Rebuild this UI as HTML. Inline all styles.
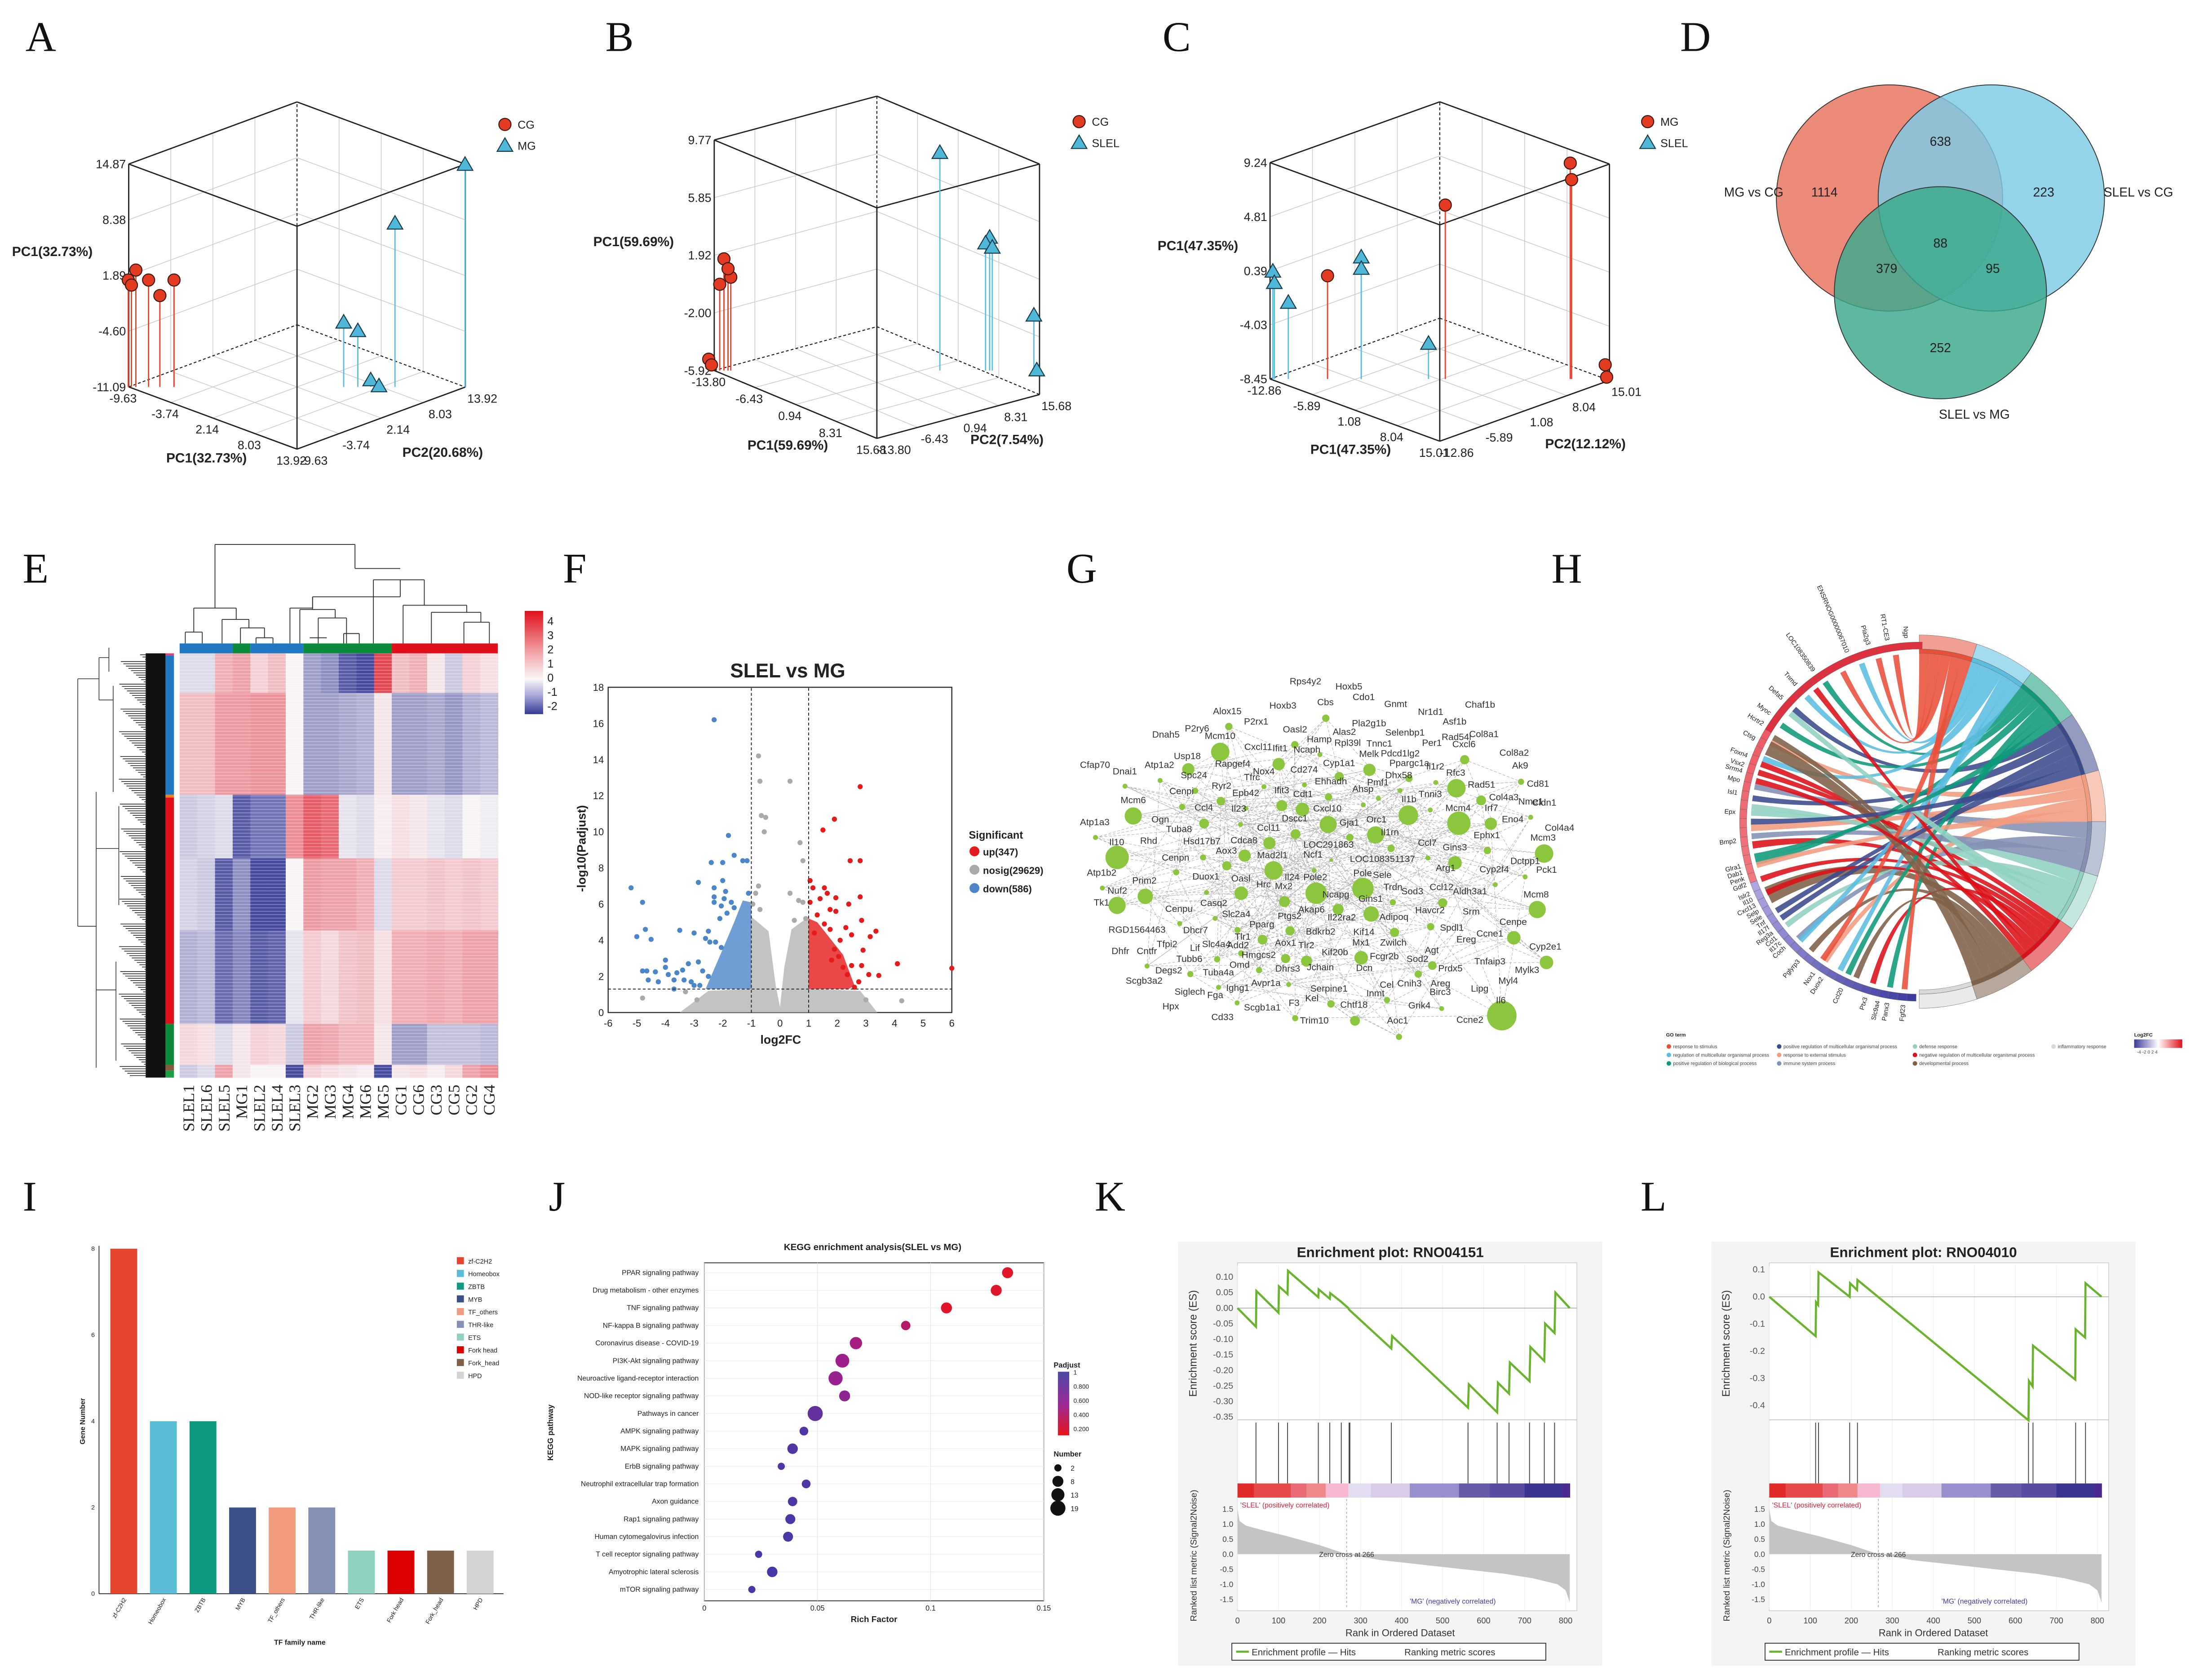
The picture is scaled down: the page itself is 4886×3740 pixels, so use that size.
<!DOCTYPE html>
<html><head><meta charset="utf-8">
<style>
html,body{margin:0;padding:0;background:#fff;}
svg{display:block;font-family:"Liberation Sans",Arial,sans-serif;}
.L{font-family:"Liberation Serif",serif;font-size:30px;fill:#111;}
</style></head>
<body>
<svg id="fig" xmlns="http://www.w3.org/2000/svg" width="4886" height="3740" viewBox="0 0 1552 1188">
<rect x="0" y="0" width="1552" height="1188" fill="#fff"/>
<text class="L" x="18" y="36">A</text>
<text class="L" x="428" y="36">B</text>
<text class="L" x="822" y="36">C</text>
<text class="L" x="1188" y="36">D</text>
<text class="L" x="16" y="412">E</text>
<text class="L" x="398" y="412">F</text>
<text class="L" x="754" y="412">G</text>
<text class="L" x="1097" y="412">H</text>
<text class="L" x="16" y="856">I</text>
<text class="L" x="388" y="856">J</text>
<text class="L" x="774" y="856">K</text>
<text class="L" x="1160" y="856">L</text>
<g id="pA"></g>
<g id="pB"></g>
<g id="pC"></g>
<g id="pD"></g>
<g id="pE"></g>
<g id="pF"></g>
<g id="pG"></g>
<g id="pH"></g>
<g id="pI"></g>
<g id="pJ"></g>
<g id="pK"></g>
<g id="pL"></g>
</svg>
<script>
// ===== DATA =====
const pcaA_CG=[[-9.66,1.36],[-9.44,0.77],[-9.13,2.52],[-8.24,1.36],[-7.45,-0.45],[-6.46,1.36]];
const pcaA_MG=[[13.9,14.8],[9.0,7.95],[5.41,-3.58],[6.4,-4.57],[7.3,-10.3],[7.88,-11.0]];
const pcaB_CG=[[-14.3,-5.15],[-14.05,-5.54],[-13.3,-0.05],[-12.92,1.68],[-12.3,0.43],[-12.55,1.01]];
const pcaB_SLEL=[[6.65,8.9],[11.16,3.13],[10.79,2.74],[11.4,2.45],[15.17,-2.17],[15.43,-5.9]];
const pcaC_MG=[[1.53,5.77],[11.79,9.2],[11.9,7.85],[14.66,-7.29],[14.78,-8.3],[-8.14,-0.01]];
const pcaC_SLEL=[[-12.63,0.34],[-12.51,-0.59],[-11.36,-2.21],[-5.37,1.5],[-5.37,0.57],[0.15,-5.56]];
const vennLabels=["MG vs CG","SLEL vs CG","SLEL vs MG"];
const vennCounts=[1114,638,223,88,379,95,252];
const hmCols=["SLEL1","SLEL6","SLEL5","MG1","SLEL2","SLEL4","SLEL3","MG2","MG3","MG4","MG6","MG5","CG1","CG6","CG3","CG5","CG2","CG4"];
const hmRowFrac=[28,72,45,51,66,29,9];
const hmVals=[
[-0.3,-0.3,1,1.2,0.5,0.8,0,-1,-1.2,-1.8,-2,2.5,0.8,1,0.2,-0.5,0.5,0.3],
[0.8,0.8,1.3,1.3,1.4,1.4,0,-1,-1,-0.9,-0.8,0.2,-1,-1,-0.9,-1.1,-0.8,-0.7],
[-0.5,-0.4,-0.3,-1.8,-1.5,-1.5,1.5,2.2,2.0,-0.2,-0.3,0.1,0.3,0.2,-0.2,-0.3,0,-0.1],
[-0.4,-0.5,-1.8,-1.2,-2,-2,0,1.3,1.2,1.2,1.0,-0.3,0.6,0.6,0.7,0.6,0.7,0.6],
[-0.8,-0.7,-1.6,-1.3,-1.8,-1.7,-0.2,0.6,0.4,0.7,0.8,0.3,1,1,1.1,1.0,1.2,1.2],
[0.4,0.3,-0.3,0.2,0.5,0.4,-0.5,1.2,1.1,0.9,0.9,0.2,-1,-1,-0.6,-0.6,-0.6,-0.7],
[-0.5,-0.3,1.2,0.2,0,0,-2,0.5,0.3,0.2,0.1,-2,0.2,0.3,0.1,0.4,1.2,1.5]];
const hmScaleTicks=[4,3,2,1,0,-1,-2];
const volUpX=[2.8,1.9,1.5,2.45,2.8,1.05,1.15,1.55,1.65,1.95,2.8,1.05,2.4,1.75,1.95,2.85,2.3,3.35,3.15,2.5,4.1,6.0,2.9,3.45,3.1,2.75,2.85,2.5,2.35,2.6,1.8,2.05,1.55,1.75,2.1,1.9,1.3,1.2,2.2,1.4];
const volUpY=[12.5,10.7,10.1,8.4,8.4,7.3,6.9,6.9,6.6,6.35,6.4,6.1,6.0,5.7,5.6,5.1,4.7,4.5,4.2,4.3,2.7,2.45,3.45,2.05,2.1,1.7,2.6,2.6,2.1,1.4,2.9,3.1,4.9,4.6,4.0,3.5,5.4,4.4,2.5,6.3];
const volDownX=[-2.3,-1.8,-1.6,-2.4,-2,-1.3,-1.15,-2.85,-2,-5.2,-2.3,-1.9,-1.1,-4.8,-2.3,-1.95,-2.3,-1.7,-2.05,-1.6,-2.1,-1.85,-4.7,-3.5,-5,-4.5,-3,-2.5,-2.6,-2.45,-2.25,-2.05,-4,-4,-3.2,-2.85,-4.8,-4.65,-4.35,-3.6,-3.9,-3.4,-4.6,-4.25,-3.7,-3.35,-3.1,-2.7,-2.5,-3.7,-2.8,-3.0];
const volDownY=[16.2,9.8,8.7,8.3,8.3,8.4,8.4,7.2,7.3,6.9,6.9,6.7,6.6,6.1,6.4,6.3,6.1,6.1,5.9,5.8,5.2,5.5,4.6,4.55,4.2,4.05,4.4,4.5,4.1,3.9,3.9,3.6,2.9,2.5,2.7,2.8,2.3,2.3,2.25,2.2,2.1,2.35,1.8,1.7,1.8,1.8,1.7,2.3,2.0,1.3,1.5,1.5];
const volNsX=[-0.75,-0.7,0.35,-0.65,-0.5,-0.55,0.7,0.8,-0.75,-0.85,0.35,0.65,0.8,-0.95,-0.7,0.5,0.9,-4.8,4.25,3.0,-2.9,-3.3];
const volNsY=[14.2,12.8,12.8,10.9,10.8,10.0,9.4,8.4,7.0,6.6,6.6,6.2,6.1,6.0,5.7,5.1,5.2,0.8,0.65,0.7,0.7,1.15];
const volNsRegionX=[-3.5,-2.5,-1,-1,-0.4,-0.15,0,0.15,0.4,1,1,2.8,3.4];
const volNsRegionY=[0,1.2,1.3,5.3,4.5,1.5,0.3,2.5,4.6,5.3,1.3,1.2,0];
const volDownRegionX=[-2.6,-2.0,-1.6,-1.3,-1,-1];
const volDownRegionY=[1.3,3.5,5.0,6.2,6.1,1.3];
const volUpRegionX=[1,1,1.3,1.7,2.2,2.6,2.4];
const volUpRegionY=[1.3,5.2,5.0,4.2,3.2,1.5,1.3];
const volXTicks=[-6,-5,-4,-3,-2,-1,0,1,2,3,4,5,6];
const volYTicks=[0,2,4,6,8,10,12,14,16,18];
const volLegend=["up(347)","nosig(29629)","down(586)"];
const tfNames=["zf-C2H2","Homeobox","ZBTB","MYB","TF_others","THR-like","ETS","Fork head","Fork_head","HPD"];
const tfCounts=[8,4,4,2,2,2,1,1,1,1];
const tfYTicks=[0,2,4,6,8];
const keggPath=["PPAR signaling pathway","Drug metabolism - other enzymes","TNF signaling pathway","NF-kappa B signaling pathway","Coronavirus disease - COVID-19","PI3K-Akt signaling pathway","Neuroactive ligand-receptor interaction","NOD-like receptor signaling pathway","Pathways in cancer","AMPK signaling pathway","MAPK signaling pathway","ErbB signaling pathway","Neutrophil extracellular trap formation","Axon guidance","Rap1 signaling pathway","Human cytomegalovirus infection","T cell receptor signaling pathway","Amyotrophic lateral sclerosis","mTOR signaling pathway"];
const keggRich=[0.134,0.129,0.107,0.089,0.067,0.061,0.058,0.062,0.049,0.044,0.039,0.034,0.045,0.039,0.038,0.037,0.024,0.030,0.021];
const keggNum=[8,8,8,5,11,15,16,8,19,4,7,2,4,5,6,6,2,7,2];
const keggPadj=[0.05,0.06,0.06,0.35,0.45,0.5,0.55,0.6,0.8,0.9,0.9,0.92,0.92,0.92,0.93,0.93,0.95,0.95,0.95];
const keggXTicks=[0,0.05,0.1,0.15];
const kRank=[0,45,46,100,101,122,123,197,198,225,226,253,270,272,375,377,562,564,633,635,662,664,712,714,748,750,773,775,810];
const kES=[0,-0.06,0.055,-0.015,0.07,0.045,0.12,0.035,0.06,0.03,0.048,0.02,0.0,-0.005,-0.13,-0.09,-0.32,-0.245,-0.335,-0.24,-0.275,-0.175,-0.235,-0.125,-0.17,-0.05,-0.08,0.05,0];
const kHits=[45,100,122,197,225,253,272,274,375,562,633,662,712,748,773];
const kESTicks=[0.10,0.05,0.00,-0.05,-0.10,-0.15,-0.20,-0.25,-0.30,-0.35];
const lRank=[0,113,114,119,120,196,197,214,215,632,633,642,643,746,747,770,771,810];
const lES=[0,-0.145,-0.02,-0.03,0.09,0.0,0.05,0.025,0.062,-0.455,-0.31,-0.33,-0.18,-0.305,-0.12,-0.15,0.05,0];
const lHits=[113,120,196,215,632,643,747,771];
const lESTicks=[0.1,0.0,-0.1,-0.2,-0.3,-0.4];
const metRank=[0,5,20,60,120,200,266,350,450,550,650,720,780,800,810];
const metVal=[1.5,1.1,0.95,0.8,0.6,0.3,0,-0.2,-0.35,-0.5,-0.65,-0.8,-1.0,-1.2,-1.6];
const metTicks=[1.5,1.0,0.5,0.0,-0.5,-1.0,-1.5];
const rankTicks=[0,100,200,300,400,500,600,700,800];

// ===== helpers =====
const NS="http://www.w3.org/2000/svg";
function E(tag,a,p){const e=document.createElementNS(NS,tag);for(const k in a)e.setAttribute(k,a[k]);p.appendChild(e);return e;}
function T(p,x,y,s,txt,a){const e=E('text',Object.assign({x:x,y:y,'font-size':s,fill:'#222'},a||{}),p);e.textContent=txt;return e;}
function lerp(a,b,t){return a+(b-a)*t;}
function mixC(c1,c2,t){return 'rgb('+Math.round(lerp(c1[0],c2[0],t))+','+Math.round(lerp(c1[1],c2[1],t))+','+Math.round(lerp(c1[2],c2[2],t))+')';}

// ===== PCA =====
function pca(g,cfg){
  const BL=cfg.BL,BF=cfg.BF,BB=cfg.BB,H=cfg.H;
  const P=(a,b,c)=>[BL[0]+a*(BF[0]-BL[0])+b*(BB[0]-BL[0]), BL[1]+a*(BF[1]-BL[1])+b*(BB[1]-BL[1])-c*H];
  const BR=P(1,1,0);
  const ln=(p,q,st,w,d,name)=>{const e=E('line',{x1:p[0],y1:p[1],x2:q[0],y2:q[1],stroke:st,'stroke-width':w},g);if(d)e.setAttribute('stroke-dasharray',d);return e;};
  for(let k=1;k<4;k++){const t=k/4;
    ln(P(0,t,0),P(0,t,1),'#ccc',0.5,null,'grid-line');ln(P(t,1,0),P(t,1,1),'#ccc',0.5,null,'grid-line');
    ln(P(t,0,0),P(t,1,0),'#ccc',0.5,null,'grid-line');ln(P(0,t,0),P(1,t,0),'#ccc',0.5,null,'grid-line');
    ln(P(0,0,t),P(0,1,t),'#ccc',0.5,null,'grid-line');ln(P(0,1,t),P(1,1,t),'#ccc',0.5,null,'grid-line');}
  ln(P(0,0,0),P(0,1,0),'#222',0.7,'2,1.5','box-edge');ln(P(0,1,0),P(1,1,0),'#222',0.7,'2,1.5','box-edge');ln(P(0,1,0),P(0,1,1),'#222',0.7,'2,1.5','box-edge');
  ln(P(0,0,1),P(0,1,1),'#222',0.9,null,'box-edge');ln(P(0,1,1),P(1,1,1),'#222',0.9,null,'box-edge');ln(P(1,1,1),P(1,0,1),'#222',0.9,null,'box-edge');ln(P(1,0,1),P(0,0,1),'#222',0.9,null,'box-edge');
  ln(P(0,0,0),P(0,0,1),'#222',0.9,null,'box-edge');ln(P(1,0,0),P(1,0,1),'#222',0.9,null,'box-edge');ln(P(1,1,0),P(1,1,1),'#222',0.9,null,'box-edge');
  ln(P(0,0,0),P(1,0,0),'#222',0.9,null,'box-edge');ln(P(1,0,0),P(1,1,0),'#222',0.9,null,'box-edge');
  const xr=cfg.xr,zr=cfg.zr,xt=cfg.xt,zt=cfg.zt;
  const sx=v=>BL[0]+(v-xr[0])/(xr[1]-xr[0])*(BR[0]-BL[0]);
  const sy=v=>BL[1]-(v-zr[0])/(zr[1]-zr[0])*H;
  zt.forEach((v,i)=>{const t=T(g,BL[0]-2,BL[1]-i/4*H+3,8.5,v,{'text-anchor':'end'});});
  xt.forEach((v,i)=>{const p=P(i/4,0,0);const t=T(g,p[0]-4,p[1]+11,8.5,v,{'text-anchor':'middle'});});
  xt.forEach((v,i)=>{const p=P(1,i/4,0);const t=T(g,p[0]+12,p[1]+11,8.5,v,{'text-anchor':'middle'});});
  let t=T(g,cfg.tz[0],cfg.tz[1],9.5,cfg.t1,{'font-weight':'bold','text-anchor':'middle'});
  t=T(g,cfg.tx[0],cfg.tx[1],9.5,cfg.t1,{'font-weight':'bold','text-anchor':'middle'});
  t=T(g,cfg.ty[0],cfg.ty[1],9.5,cfg.t2,{'font-weight':'bold','text-anchor':'middle'});
  const marker=(x,y,kind)=>{let m;if(kind==0){m=E('circle',{cx:x,cy:y,r:4.3,fill:'#e23b22',stroke:'#3a1a10','stroke-width':0.7},g);}else{m=E('polygon',{points:(x)+','+(y-5.5)+' '+(x-5.5)+','+(y+4)+' '+(x+5.5)+','+(y+4),fill:'#4fb8d8',stroke:'#1a3a48','stroke-width':0.7},g);}return m;};
  [[cfg.s1,0,'#e8402a'],[cfg.s2,1,'#5bc0de']].forEach(([arr,kind,col])=>{
    arr.forEach(d=>{const x=sx(d[0]),y=sy(d[1]);
      const s=E('line',{x1:x,y1:BL[1],x2:x,y2:y,stroke:col,'stroke-width':0.9},g);});
    arr.forEach(d=>{const m=marker(sx(d[0]),sy(d[1]),kind);});
  });
  let m=marker(cfg.lg[0],cfg.lg[1],0);
  t=T(g,cfg.lg[0]+9,cfg.lg[1]+3,8,cfg.n1);
  m=marker(cfg.lg[0],cfg.lg[1]+15,1);
  t=T(g,cfg.lg[0]+9,cfg.lg[1]+18,8,cfg.n2);
}
pca(document.getElementById('pA'),{BL:[91,273.6],BF:[210,317.6],BB:[210,229.7],H:157.6,xr:[-9.63,13.92],zr:[-11.09,14.87],
 xt:["-9.63","-3.74","2.14","8.03","13.92"],zt:["-11.09","-4.60","1.89","8.38","14.87"],t1:"PC1(32.73%)",t2:"PC2(20.68%)",
 tz:[37,181],tx:[146,327],ty:[313,323],s1:pcaA_CG,s2:pcaA_MG,n1:"CG",n2:"MG",lg:[357,88]});
pca(document.getElementById('pB'),{BL:[505,262],BF:[620,310],BB:[620,231],H:163,xr:[-13.8,15.68],zr:[-5.92,9.77],
 xt:["-13.80","-6.43","0.94","8.31","15.68"],zt:["-5.92","-2.00","1.92","5.85","9.77"],t1:"PC1(59.69%)",t2:"PC2(7.54%)",
 tz:[448,174],tx:[557,318],ty:[712,314],s1:pcaB_CG,s2:pcaB_SLEL,n1:"CG",n2:"SLEL",lg:[763,86]});
pca(document.getElementById('pC'),{BL:[898,268],BF:[1018,312],BB:[1018,225],H:153,xr:[-12.86,15.01],zr:[-8.45,9.24],
 xt:["-12.86","-5.89","1.08","8.04","15.01"],zt:["-8.45","-4.03","0.39","4.81","9.24"],t1:"PC1(47.35%)",t2:"PC2(12.12%)",
 tz:[847,177],tx:[955,321],ty:[1121,317],s1:pcaC_MG,s2:pcaC_SLEL,n1:"MG",n2:"SLEL",lg:[1165,86]});

// ===== Venn =====
(function(){const g=document.getElementById('pD');
 const cs=[[1336,140,80,'#e8705c'],[1408,140,80,'#7ccbe6'],[1372,207,75,'#3aa88c']];
 cs.forEach((c,i)=>{const e=E('circle',{cx:c[0],cy:c[1],r:c[2],fill:c[3],'fill-opacity':0.82,stroke:'#333','stroke-width':0.6},g);});
 const pos=[[1290,139],[1372,103],[1445,139],[1372,175],[1334,193],[1409,193],[1372,249]];
 vennCounts.forEach((v,i)=>{const t=T(g,pos[i][0],pos[i][1],9,v,{'text-anchor':'middle'});});
 const lp=[[1240,139,'middle'],[1512,139,'middle'],[1396,296,'middle']];
 vennLabels.forEach((v,i)=>{const t=T(g,lp[i][0],lp[i][1],9,v,{'text-anchor':lp[i][2]});});
})();

// ===== Heatmap =====
(function(){const g=document.getElementById('pE');
 const x0=127,x1=352,y0=462,y1=762,cw=(x1-x0)/hmCols.length;
 const tot=hmRowFrac.reduce((a,b)=>a+b,0);
 const col=v=>{if(v>=0)return mixC([248,244,246],[222,22,38],Math.min(v/3.2,1));return mixC([248,244,246],[52,58,150],Math.min(-v/2.2,1));};
 let yy=y0;
 hmVals.forEach((row,r)=>{const h=hmRowFrac[r]/tot*(y1-y0);
   row.forEach((v,c)=>{const e=E('rect',{x:x0+c*cw,y:yy,width:cw+0.3,height:h+0.3,fill:col(v)},g);});
   yy+=h;});
 for(let y=y0;y<y1;y+=2.4){const e=E('line',{x1:x0,x2:x1,y1:y,y2:y,stroke:'#fff','stroke-width':0.5,'stroke-opacity':0.35},g);}
 const grp=[[0,3,'#1f78c1'],[3,4,'#0a8a3a'],[4,7,'#1f78c1'],[7,12,'#0a8a3a'],[12,18,'#e0101a']];
 grp.forEach(q=>{const e=E('rect',{x:x0+q[0]*cw,y:455,width:(q[1]-q[0])*cw,height:7,fill:q[2]},g);});
 const rg=[[462,463.5,'#e04080'],[463.5,562,'#1f78c1'],[562,564,'#f08020'],[564,724,'#e0101a'],[724,753,'#0a8a3a'],[753,757,'#8a5a40'],[757,762,'#1ba040']];
 rg.forEach(q=>{const e=E('rect',{x:117,y:q[0],width:6,height:q[1]-q[0],fill:q[2]},g);});
 const segs=[[152,385,251,385],[152,385,152,430],[251,385,251,402],[137,430,167,430],[137,430,137,447],[167,430,167,438],[131,447,143,447],[131,447,131,455],[143,447,143,455],[157,438,176,438],[157,438,157,455],[176,438,176,444],[170,444,187,444],[170,444,170,455],[187,444,187,451],[181,451,193,451],[181,451,181,455],[193,451,193,455],[205,430,221,430],[205,430,205,455],[221,430,221,422],[221,422,283,422],[283,422,283,410],[251,402,283,402],[221,422,221,431],[212,431,237,431],[212,431,212,455],[237,431,237,437],[225,437,245,437],[225,437,225,455],[245,437,245,455],[264,410,300,410],[264,410,264,455],[300,410,300,428],[285,428,330,428],[285,428,285,455],[330,428,330,433],[305,433,340,433],[305,433,305,455],[340,433,340,440],[328,440,346,440],[328,440,328,455],[346,440,346,455],[219,451,231,451],[243,448,254,448],[243,448,243,455],[254,448,254,455]];
 segs.forEach(s=>{const e=E('line',{x1:s[0],y1:s[1],x2:s[2],y2:s[3],stroke:'#333','stroke-width':0.6},g);});
 const lb=[[55,480,55,655],[55,480,70,480],[55,655,68,655],[70,465,70,495],[68,560,68,755],[70,465,77,465],[70,495,80,495],[77,458,77,475],[80,485,80,560],[68,600,84,600],[84,570,84,640],[68,700,82,700],[82,680,82,750]];
 lb.forEach(s=>{const e=E('line',{x1:s[0],y1:s[1],x2:s[2],y2:s[3],stroke:'#333','stroke-width':0.5},g);});
 const dense=E('rect',{x:103,y:462,width:14,height:300,fill:'#111'},g);
 for(let y=463;y<761;y+=1.6){const e=E('line',{x1:84+((y*13)%19),y1:y,x2:104,y2:y,stroke:'#222','stroke-width':0.5},g);}
 hmCols.forEach((c,i)=>{const x=x0+(i+0.5)*cw+4;const t=T(g,x,767,11.5,c,{'text-anchor':'end','font-family':'"Liberation Serif",serif',transform:'rotate(-90 '+x+' 767)'});});
 const defs=E('defs',{},g);const lg=E('linearGradient',{id:'hmg',x1:0,y1:0,x2:0,y2:1},defs);
 [[0,'#e0101a'],[0.45,'#f4b4b8'],[0.66,'#faf6f8'],[0.82,'#a8a8d8'],[1,'#343a96']].forEach(s=>E('stop',{offset:s[0],'stop-color':s[1]},lg));
 const sb=E('rect',{x:371,y:432,width:13,height:73,fill:'url(#hmg)'},g);
 hmScaleTicks.forEach((v,i)=>{const t=T(g,387,442+i*10,8,v);});
})();

// ===== Volcano =====
(function(){const g=document.getElementById('pF');
 const X0=430,X1=673,Y0=716,Y1=486;
 const sx=v=>X0+(v+6)/12*(X1-X0), sy=v=>Y0-v/18*(Y0-Y1);
 let e=E('rect',{x:X0,y:Y1,width:X1-X0,height:Y0-Y1,fill:'none',stroke:'#333','stroke-width':0.8},g);
 const reg=(xs,ys,c,n)=>{const pts=xs.map((x,i)=>sx(x)+','+sy(ys[i])).join(' ');const p=E('polygon',{points:pts,fill:c,'fill-opacity':0.8},g);};
 reg(volNsRegionX,volNsRegionY,'#b4b4b4','nosig-dense-region');reg(volDownRegionX,volDownRegionY,'#4a86c8','down-dense-region');reg(volUpRegionX,volUpRegionY,'#e51a1a','up-dense-region');
 volNsX.forEach((x,i)=>{const c=E('circle',{cx:sx(x),cy:sy(volNsY[i]),r:1.8,fill:'#aaa'},g);});
 volDownX.forEach((x,i)=>{const c=E('circle',{cx:sx(x),cy:sy(volDownY[i]),r:1.8,fill:'#4a86c8'},g);});
 volUpX.forEach((x,i)=>{const c=E('circle',{cx:sx(x),cy:sy(volUpY[i]),r:1.8,fill:'#e51a1a'},g);});
 [[-1,0,-1,18],[1,0,1,18],[-6,1.3,6,1.3]].forEach(l=>{const d=E('line',{x1:sx(l[0]),y1:sy(l[1]),x2:sx(l[2]),y2:sy(l[3]),stroke:'#222','stroke-width':0.6,'stroke-dasharray':'2,1.5'},g);});
 volXTicks.forEach(v=>{const t=T(g,sx(v),Y0+10,7,v,{'text-anchor':'middle'});});
 volYTicks.forEach(v=>{const t=T(g,X0-3,sy(v)+2.5,7,v,{'text-anchor':'end'});});
 let t=T(g,557,479,14,'SLEL vs MG',{'font-weight':'bold','text-anchor':'middle'});
 t=T(g,552,738,8.5,'log2FC',{'font-weight':'bold','text-anchor':'middle'});
 t=T(g,414,600,8.5,'-log10(Padjust)',{'font-weight':'bold','text-anchor':'middle',transform:'rotate(-90 414 600)'});
 t=T(g,685,593,7.5,'Significant',{'font-weight':'bold'});
 ['#e51a1a','#aaa','#4a86c8'].forEach((c,i)=>{const m=E('circle',{cx:689,cy:602+i*13,r:3.5,fill:c},g);
   const l=T(g,695,605+i*13,7,volLegend[i],{'font-weight':'bold'});});
})();

// ===== Network =====
const netLabels=[['Rps4y2',615,115],['Hoxb5',748,135],['Cdo1',798,175],['Cbs',695,195],['Hoxb3',556,208],['Gnmt',890,202],['Chaf1b',1125,205],['Alox15',392,230],['Nr1d1',988,233],['P2rx1',482,270],['Pla2g1b',796,277],['Asf1b',1060,270],['Oasl2',595,300],['Alas2',740,310],['Selenbp1',893,312],['Dnah5',215,320],['P2ry6',310,297],['Mcm10',368,325],['Rad54l',1057,330],['Col8a1',1137,318],['Hamp',665,338],['Rpl39l',745,352],['Tnnc1',838,355],['Per1',1000,352],['Cxcl6',1088,357],['Cxcl11',483,368],['Ifit1',565,373],['Ncaph',626,378],['Col8a2',1225,390],['Melk',817,395],['Pdcd1lg2',880,393],['Usp18',278,403],['Cfap70',5,437],['Atp1a2',193,437],['Rapgef4',398,433],['Cyp1a1',712,430],['Ppargc1a',905,430],['Il1r2',1012,443],['Ak9',1262,440],['Dnai1',100,462],['Nox4',508,462],['Cd274',617,455],['Rfc3',1070,467],['Spc24',298,477],['Tfrc',482,485],['Dhx58',893,477],['Ehhadh',688,500],['Pmf1',840,505],['Rad51',1133,513],['Cd81',1305,510],['Cenpi',265,538],['Ryr2',388,518],['Epb42',448,545],['Ifit3',570,535],['Cdt1',625,550],['Ahsp',797,530],['Tnni3',990,550],['Il1b',940,570],['Col4a3',1195,562],['Nme1',1280,578],['Cldn1',1320,583],['Mcm6',123,573],['Ccl4',338,602],['Il23',445,606],['Cxcl10',683,605],['Mcm4',1068,603],['Irf7',1182,603],['Atp1a3',5,658],['Ogn',213,648],['Dscc1',592,643],['Gja1',760,660],['Orc1',838,648],['Eno4',1232,647],['Col4a4',1357,680],['Tuba8',255,685],['Ccl11',520,680],['Il1rn',880,697],['Ephx1',1150,708],['Mcm3',1315,718],['Il10',90,735],['Rhd',180,730],['Hsd17b7',305,732],['Cdca8',443,728],['LOC291863',655,745],['Ccl7',988,738],['Gins3',1060,755],['Aox3',400,768],['Mad2l1',520,785],['Ncf1',655,783],['Cenpn',243,795],['LOC108351137',790,800],['Dctpp1',1257,808],['Atp1b2',25,853],['Arg1',1040,835],['Cyp2f4',1167,840],['Pck1',1332,842],['Duox1',332,868],['Oasl',445,875],['Il24',600,870],['Pole2',655,870],['Pole',800,855],['Sele',857,862],['Prim2',157,883],['Hrc',518,898],['Mx2',572,905],['Trdn',888,908],['Sod3',940,925],['Ccl12',1022,908],['Aldh3a1',1090,925],['Nuf2',85,922],['Ncapg',710,937],['Gins1',815,953],['Mcm8',1295,937],['Tk1',45,968],['Casq2',355,970],['Cenpu',253,992],['Akap6',640,995],['Havcr2',980,998],['Srm',1118,1003],['Slc2a4',418,1012],['Ptgs2',580,1020],['Il22ra2',725,1025],['Adipoq',876,1024],['Cenpe',1225,1043],['RGD1564463',88,1073],['Dhcr7',305,1075],['Pparg',498,1052],['Bdkrb2',662,1080],['Kif14',800,1082],['Spdl1',1052,1065],['Ccne1',1158,1088],['Tlr1',455,1100],['Ereg',1100,1110],['Tfpi2',228,1128],['Slc4a4',360,1128],['Add2',433,1133],['Aox1',572,1123],['Tlr2',640,1133],['Mx1',797,1122],['Zwilch',878,1122],['Cyp2e1',1312,1138],['Dhfr',97,1155],['Cntfr',170,1155],['Lif',325,1143],['Agt',1008,1152],['Hmgcs2',475,1170],['Kif20b',708,1160],['Fcgr2b',848,1175],['Sod2',955,1186],['Tnfaip3',1152,1195],['Tubb6',285,1186],['Omd',440,1208],['Jchain',665,1218],['Dhrs3',573,1223],['Dcn',808,1220],['Prdx5',1047,1222],['Mylk3',1270,1228],['Degs2',224,1230],['Tuba4a',362,1238],['Scgb3a2',138,1270],['Avpr1a',503,1278],['Cel',877,1285],['Cnih3',928,1280],['Areg',1025,1280],['Myl4',1222,1270],['Serpine1',675,1300],['Lipg',1142,1300],['Siglech',280,1312],['Ighg1',430,1297],['Fga',375,1325],['Birc3',1022,1313],['Inmt',838,1318],['Kel',660,1337],['F3',612,1355],['Il6',1215,1345],['Hpx',245,1368],['Scgb1a1',482,1373],['Chtf18',762,1362],['Grik4',960,1365],['Cd33',387,1410],['Trim10',645,1423],['Aoc1',898,1423],['Ccne2',1100,1420]];
const netNodes=[[413,388,30],[160,635,28],[113,795,38],[113,980,28],[195,945,25],[320,455,20],[583,435,20],[592,595,18],[652,610,22],[727,668,28],[847,457,20],[865,708,28],[960,632,32],[1100,528,30],[1107,663,38],[1124,418,15],[1172,575,16],[1200,665,20],[1355,780,30],[1335,996,28],[1267,1105,22],[1362,1200,22],[1232,1405,48],[828,915,35],[692,933,35],[568,845,30],[484,788,20],[474,933,22],[600,965,18],[852,1013,25],[756,995,18],[823,1182,22],[664,1195,18],[603,1185,15],[536,1112,16],[616,1078,15],[432,827,15],[366,664,16],[556,740,20],[632,705,16],[1096,816,22],[1060,970,15],[1030,1212,14],[989,1245,12],[920,1084,15],[805,1425,16],[735,1360,12],[1025,1062,12],[910,760,12],[728,562,12],[759,483,15],[415,578,14],[302,600,10],[340,538,10],[438,290,12],[720,258,12],[630,360,12],[962,490,12],[1190,768,12],[1300,870,8],[1288,503,10],[1316,640,8],[136,520,8],[238,498,8],[50,718,8],[70,913,8],[363,795,10],[285,852,10],[373,930,8],[295,1050,8],[398,1030,8],[463,1075,10],[404,1188,10],[326,1245,10],[200,1214,8],[474,1165,10],[526,1230,10],[408,1296,8],[462,1356,8],[631,1415,10],[933,1487,10],[898,1345,10],[1057,1378,8],[1213,900,8],[540,522,8],[658,515,8],[703,398,8],[472,668,8],[487,606,8],[790,718,12],[829,592,8],[873,567,8],[936,537,8],[1024,612,8],[1040,506,8],[1017,797,8],[915,968,10],[612,1285,8],[686,845,8],[736,805,6]];
(function(){const g=document.getElementById('pG');
 const X=px=>762.4+px/4.114, Y=py=>460.6+py/5.455;
 const n=netNodes.length;
 for(let i=0;i<n;i++){[(i*17+5)%n,(i*29+11)%n,(i*7+3)%n].forEach(j=>{const a=netNodes[i],b=netNodes[j];const e=E('line',{x1:X(a[0]),y1:Y(a[1]),x2:X(b[0]),y2:Y(b[1]),stroke:'#aaa','stroke-width':0.3,'stroke-dasharray':'2,1.2'},g);});}
 netNodes.forEach(nd=>{const c=E('circle',{cx:X(nd[0]),cy:Y(nd[1]),r:nd[2]/4.6,fill:'#8cc63f'},g);});
 netLabels.forEach(l=>{const t=T(g,X(l[1]),Y(l[2])+2.3,6.6,l[0],{fill:'#333'});});
})();

// ===== Chord =====
const chordSegColors=['#e8503a','#5bbde0','#0e9a7a','#3b4a8c','#f39b7f','#8491b4','#91d1c2','#dc1018','#7e6148','#d9d9d9'];
const chordSegStart=[0,18,37,55,74,90,107,125,143,162];
const chordSegEnd=[18,37,55,74,90,107,125,143,162,180];
const chordLinkSrc=[352,346,340,333,326,318,312,305,298,292,287,282,278,273,268,262,256,250,244,238,232,226,220,214,208,202,196,190,185,300,290,275,265,255,245,235,225,215,205,322,310,296,284,270,258];
const chordLinkSeg=[0,0,1,0,2,1,3,2,4,1,7,5,3,6,4,7,2,7,8,3,6,5,8,4,1,8,7,2,0,8,7,6,5,4,7,3,1,0,2,7,6,8,7,3,2];
const chordLinkW=[2,2,2,2,2,2,2,2,2,2,2,2,2,2,2.5,2.5,2,2,6,2,2,2,2,2,2,2,2,2,2,2,2,2,2,2,2,2,2,2,2,2,2,5,2,2,2];
const chordGenes=[['Ngp',356],['RT1-CE3',350],['Pla2g3',344],['ENSRNOG00000067010',337],['LOC108350839',325],['Tnmd',318],['Defa5',312],['Myoc',306],['Hcrtr2',302],['Ctsg',297],['Foxn4',291],['Vsx2',288],['Srrm4',286],['Mpo',283],['Isl1',279],['Epx',273],['Bmp2',264],['Glra1',256],['Dab1',254],['Penk',252],['Gdf2',250],['Islr2',247],['Il10',245],['Cxcl13',243],['Selp',241],['Sele',239],['Tnf',237],['Il17f',235],['Reg3a',233],['Ccl1',231],['Il17c',229],['Coch',227],['Pglyrp3',221],['Nox1',215],['Duox2',212],['Ccl20',205],['Ptx3',197],['Slc9a4',193],['Panx3',190],['Fgf23',185]];
(function(){const g=document.getElementById('pH');
 const cx=1357,cy=581,R=119;
 const pt=(a,r)=>[cx+r*Math.sin(a*Math.PI/180),cy-r*Math.cos(a*Math.PI/180)];
 const arc=(a0,a1,r0,r1,fill,op,name)=>{const p0=pt(a0,r1),p1=pt(a1,r1),p2=pt(a1,r0),p3=pt(a0,r0);const lg=(a1-a0)>180?1:0;
   const e=E('path',{d:'M'+p0+' A'+r1+' '+r1+' 0 '+lg+' 1 '+p1+' L'+p2+' A'+r0+' '+r0+' 0 '+lg+' 0 '+p3+' Z',fill:fill,'fill-opacity':op,stroke:'#666','stroke-width':0.2},g);return e;};
 const used=chordSegColors.map(()=>0), cnt=chordSegColors.map(()=>0);
 chordLinkSeg.forEach(s=>cnt[s]++);
 chordLinkSrc.forEach((a,i)=>{const s=chordLinkSeg[i];const span=(chordSegEnd[s]-chordSegStart[s])/cnt[s];
   const b0=chordSegStart[s]+used[s]*span, b1=b0+span; used[s]++;
   const w=chordLinkW[i]/2;const p1=pt(a-w,R),p2=pt(a+w,R),q1=pt(b0,R),q2=pt(b1,R);
   const e=E('path',{d:'M'+p1+' Q'+cx+','+cy+' '+q2+' A'+R+' '+R+' 0 0 0 '+q1+' Q'+cx+','+cy+' '+p2+' Z',fill:chordSegColors[s],'fill-opacity':0.88},g);
   });
 chordSegColors.forEach((c,i)=>{arc(chordSegStart[i],chordSegEnd[i],R,R+3,c,1,'term-segment');arc(chordSegStart[i],chordSegEnd[i],R+3,R+13,c,0.55,'term-segment-outer');});
 for(let a=181;a<359;a+=3){let c;if(a>=300)c='#e03040';else if(a>=250)c=mixC([240,120,130],[236,90,100],(a-250)/50);else c=mixC([60,60,160],[180,170,230],(a-181)/69);
   arc(a,a+3,R+3,R+8,c,1,'gene-arc');}
 chordGenes.forEach(gn=>{const p=pt(gn[1],R+11);let rot=gn[1]-90;
   const t=T(g,p[0],p[1]+1.5,4.6,gn[0],{'text-anchor':'end',transform:'rotate('+(rot+180)+' '+p[0]+' '+p[1]+')'});});
 const terms=['response to stimulus','regulation of multicellular organismal process','positive regulation of biological process','positive regulation of multicellular organismal process','response to external stimulus','immune system process','defense response','negative regulation of multicellular organismal process','developmental process','inflammatory response'];
 const tc=['#e8503a','#5bbde0','#0e9a7a','#3b4a8c','#f39b7f','#8491b4','#91d1c2','#dc1018','#7e6148','#d9d9d9'];
 let t=T(g,1178,733,3.5,'GO term',{'font-weight':'bold'});
 const lx=[1180,1180,1180,1258,1258,1258,1354,1354,1354,1452], ly=[740,746,752,740,746,752,740,746,752,740];
 terms.forEach((s,i)=>{const m=E('circle',{cx:lx[i],cy:ly[i],r:1.6,fill:tc[i]},g);
   const l=T(g,lx[i]+3,ly[i]+1.2,3.4,s,{fill:'#444'});});
 const defs=E('defs',{},g);const lgd=E('linearGradient',{id:'lfc'},defs);
 [[0,'#3a3a9a'],[0.5,'#ffffff'],[1,'#e0101a']].forEach(s=>E('stop',{offset:s[0],'stop-color':s[1]},lgd));
 t=T(g,1509,733,3.5,'Log2FC',{'font-weight':'bold'});
 const r=E('rect',{x:1509,y:735,width:34,height:6,fill:'url(#lfc)'},g);
 t=T(g,1511,745,3.2,'-4 -2  0  2  4',{fill:'#444'});
})();

// ===== TF bar =====
(function(){const g=document.getElementById('pI');
 const X0=70,Y0=1127,Y1=883,step=28,bw=19;const sy=v=>Y0-v/8*(Y0-Y1);
 const tc=['#e5452c','#5bbcd6','#0e9a81','#3c4f88','#f39b7f','#8491b4','#91d1c2','#dc0000','#7e6148','#d3d3d3'];
 let e=E('line',{x1:X0,y1:Y1-2,x2:X0,y2:Y0,stroke:'#333','stroke-width':0.6},g);
 e=E('line',{x1:X0,y1:Y0,x2:356,y2:Y0,stroke:'#333','stroke-width':0.6},g);
 tfYTicks.forEach(v=>{const t=T(g,X0-3,sy(v)+1.5,4.5,v,{'text-anchor':'end'});});
 tfCounts.forEach((v,i)=>{const x=X0+8+i*step;const r=E('rect',{x:x,y:sy(v),width:bw,height:Y0-sy(v),fill:tc[i]},g);
   const lx=x+bw/2+2;const t=T(g,lx,Y0+4,4.3,tfNames[i],{'text-anchor':'end',transform:'rotate(-60 '+lx+' '+(Y0+4)+')'});});
 let t=T(g,60,1005,5,'Gene Number',{'font-weight':'bold','text-anchor':'middle',transform:'rotate(-90 60 1005)'});
 t=T(g,212,1163,5,'TF family name',{'font-weight':'bold','text-anchor':'middle'});
 tfNames.forEach((n,i)=>{const r=E('rect',{x:323,y:889+i*9,width:5,height:5,fill:tc[i]},g);
   const l=T(g,331,893.5+i*9,4.6,n);});
})();

// ===== KEGG dot =====
(function(){const g=document.getElementById('pJ');
 const X0=498,X1=738,Y0=893,Y1=1132;const sx=v=>X0+v/0.15*(X1-X0);const sy=i=>900+i*(1124-900)/(keggPath.length-1);
 let e=E('rect',{x:X0,y:Y0,width:X1-X0,height:Y1-Y0,fill:'#fff',stroke:'#333','stroke-width':0.6},g);
 keggXTicks.forEach(v=>{const l=E('line',{x1:sx(v),y1:Y0,x2:sx(v),y2:Y1,stroke:'#e4e4e4','stroke-width':0.4},g);
   const t=T(g,sx(v),Y1+7,5.2,v,{'text-anchor':'middle'});});
 const pc=p=>p<0.5?mixC([232,20,28],[160,30,140],p/0.5):mixC([160,30,140],[60,60,170],(p-0.5)/0.5);
 keggPath.forEach((n,i)=>{const y=sy(i);const l=E('line',{x1:X0,y1:y,x2:X1,y2:y,stroke:'#ececec','stroke-width':0.4},g);
   const t=T(g,X0-4,y+1.6,5,n,{'text-anchor':'end'});});
 keggRich.forEach((v,i)=>{const c=E('circle',{cx:sx(v),cy:sy(i),r:1.2+Math.sqrt(keggNum[i])*0.95,fill:pc(keggPadj[i])},g);});
 let t=T(g,617,884,6.5,'KEGG enrichment analysis(SLEL vs MG)',{'font-weight':'bold','text-anchor':'middle'});
 t=T(g,618,1147,6,'Rich Factor',{'font-weight':'bold','text-anchor':'middle'});
 t=T(g,391,1013,5.5,'KEGG pathway',{'font-weight':'bold','text-anchor':'middle',transform:'rotate(-90 391 1013)'});
 const defs=E('defs',{},g);const lg=E('linearGradient',{id:'padj',x1:0,y1:0,x2:0,y2:1},defs);
 [[0,'#4a4aa8'],[0.5,'#9a2a9a'],[1,'#e8141c']].forEach(s=>E('stop',{offset:s[0],'stop-color':s[1]},lg));
 t=T(g,745,967,5.2,'Padjust',{'font-weight':'bold'});
 const r=E('rect',{x:748,y:970,width:8,height:45,fill:'url(#padj)'},g);
 ['1','0.800','0.600','0.400','0.200'].forEach((s,i)=>{const q=T(g,759,972+i*10,4.4,s);});
 t=T(g,745,1030,5.2,'Number',{'font-weight':'bold'});
 [2,8,13,19].forEach((v,i)=>{const c=E('circle',{cx:748,cy:1038+i*9.5,r:1.2+Math.sqrt(v)*0.95,fill:'#111'},g);
   const q=T(g,757,1040+i*9.5,5,v);});
})();

// ===== GSEA =====
function gsea(g,o){
 const fr=E('rect',{x:o.fx,y:878,width:300,height:300,fill:'#f4f4f4'},g);
 const inner=E('rect',{x:o.x0,y:893,width:o.x1-o.x0+8,height:246,fill:'#fff',stroke:'#ccc','stroke-width':0.5},g);
 const sx=r=>o.x0+r/800*(o.x1-o.x0);const sy=v=>o.y0-v*o.ys;const my=v=>1099-v*21.3;
 let t=T(g,o.fx+150,889,10,o.title,{'font-weight':'bold','text-anchor':'middle'});
 rankTicks.forEach(v=>{const l=E('line',{x1:sx(v),y1:895,x2:sx(v),y2:1138,stroke:'#eee','stroke-width':0.4},g);
   const q=T(g,sx(v),1148,5.8,v,{'text-anchor':'middle',fill:'#444'});});
 o.ticks.forEach(v=>{const q=T(g,o.x0-3,sy(v)+2,6.3,o.dec?v.toFixed(2):v.toFixed(1),{'text-anchor':'end',fill:'#555'});});
 let l=E('line',{x1:o.x0,y1:sy(0),x2:o.x1+8,y2:sy(0),stroke:'#aaa','stroke-width':0.5},g);
 l=E('line',{x1:o.x0,y1:1004,x2:o.x1+8,y2:1004,stroke:'#bbb','stroke-width':0.5},g);
 const pts=o.rank.map((r,i)=>sx(r)+','+sy(o.es[i])).join(' ');
 const pl=E('polyline',{points:pts,fill:'none',stroke:'#6ab42d','stroke-width':1.5},g);
 o.hits.forEach(h=>{const q=E('line',{x1:sx(h),y1:1006,x2:sx(h),y2:1049,stroke:'#444','stroke-width':0.6},g);});
 const bc=['#e02a2a','#e64a4a','#ea6a78','#f08a8a','#f5b8d0','#e4dcf0','#d8cce8','#9890cc','#6858a8','#5a4aa0','#3a3490','#4a2a90'];
 const bs=[0,40,130,168,215,270,325,420,540,615,700,790,810];
 bc.forEach((c,i)=>{const r=E('rect',{x:sx(bs[i]),y:1049,width:sx(bs[i+1])-sx(bs[i])+0.3,height:10,fill:c},g);});
 const mp='M'+sx(0)+','+my(0)+' '+metRank.map((r,i)=>'L'+sx(r)+','+my(metVal[i])).join(' ')+' L'+sx(810)+','+my(0)+' Z';
 const ma=E('path',{d:mp,fill:'#c4c4c4'},g);
 metTicks.forEach(v=>{const q=T(g,o.x0-3,my(v)+2,5.5,v.toFixed(1),{'text-anchor':'end',fill:'#444'});});
 l=E('line',{x1:sx(266),y1:1060,x2:sx(266),y2:1138,stroke:'#aaa','stroke-width':0.5,'stroke-dasharray':'1.5,1.5'},g);
 t=T(g,sx(266),1101,5,'Zero cross at 266',{'text-anchor':'middle',fill:'#333'});
 t=T(g,o.x0+2,1066,5,"'SLEL' (positively correlated)",{fill:'#e0203a'});
 t=T(g,sx(420),1134,5,"'MG' (negatively correlated)",{fill:'#4a3ab0'});
 t=T(g,o.fx+157,1157,7,'Rank in Ordered Dataset',{'text-anchor':'middle',fill:'#333'});
 t=T(g,o.fx+13,950,7.5,'Enrichment score (ES)',{'text-anchor':'middle',fill:'#333',transform:'rotate(-90 '+(o.fx+13)+' 950)'});
 t=T(g,o.fx+13,1100,6.3,'Ranked list metric (Signal2Noise)',{'text-anchor':'middle',fill:'#333',transform:'rotate(-90 '+(o.fx+13)+' 1100)'});
 const lb=E('rect',{x:o.fx+38,y:1162,width:222,height:12,fill:'#fff',stroke:'#333','stroke-width':0.6},g);
 l=E('line',{x1:o.fx+41,y1:1168,x2:o.fx+50,y2:1168,stroke:'#6ab42d','stroke-width':1.5},g);
 t=T(g,o.fx+52,1170.5,6.5,'Enrichment profile — Hits',{fill:'#333'});
 t=T(g,o.fx+160,1170.5,6.5,'Ranking metric scores',{fill:'#333'});
}
gsea(document.getElementById('pK'),{fx:833,x0:875,x1:1107,y0:925,ys:220,title:'Enrichment plot: RNO04151',rank:kRank,es:kES,hits:kHits,ticks:kESTicks,dec:true});
gsea(document.getElementById('pL'),{fx:1210,x0:1251,x1:1483,y0:917,ys:192,title:'Enrichment plot: RNO04010',rank:lRank,es:lES,hits:lHits,ticks:lESTicks,dec:false});
</script>
</body></html>
